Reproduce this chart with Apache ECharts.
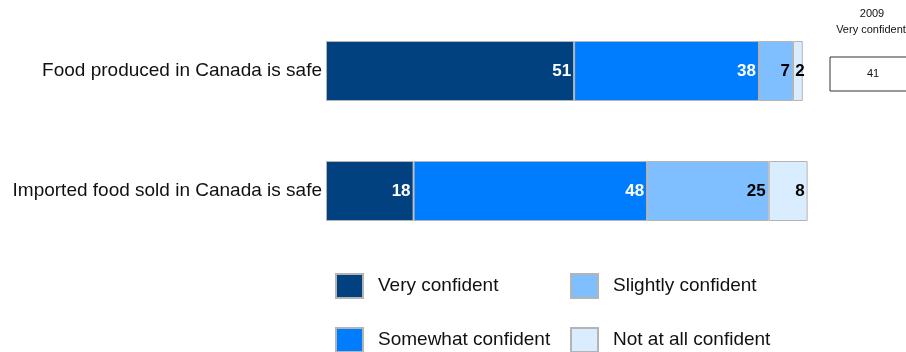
<!DOCTYPE html>
<html>
<head>
<meta charset="utf-8">
<script src="https://cdn.jsdelivr.net/npm/echarts@6/dist/echarts.min.js"></script>
<style>
  html, body { margin: 0; padding: 0; background: #fff; }
  #chart { width: 906px; height: 352px; }
</style>
</head>
<body>
<div id="chart"></div>
<script>
// Confidence in food safety, percent of respondents
const statements = ['Food produced in Canada is safe', 'Imported food sold in Canada is safe'];
const veryConfident = [51, 18];
const somewhatConfident = [38, 48];
const slightlyConfident = [7, 25];
const notAtAllConfident = [2, 8];
const seriesNames = ['Very confident', 'Somewhat confident', 'Slightly confident', 'Not at all confident'];
const seriesColors = ['#01417f', '#007dff', '#80bfff', '#d9edff'];
const labelColors = ['#ffffff', '#ffffff', '#000000', '#000000'];
// 2009 comparison value for "Very confident" (first statement only)
const prevYear = '2009';
const prevVeryConfident = [41];

const font = 'Liberation Sans, Arial, sans-serif';
const values = [veryConfident, somewhatConfident, slightlyConfident, notAtAllConfident];

// legend slots: two columns, two rows
const legendSlots = [[335, 273], [335, 327], [570, 273], [570, 327]];

// segments too narrow for their label let the label spill past the bar end
const toItems = arr => arr.map(v => v < 3 ? { value: v, label: { offset: [5, 0] } } : v);

const chart = echarts.init(document.getElementById('chart'));
chart.setOption({
  animation: false,
  grid: { left: 326, top: 11, width: 486.5, height: 240, containLabel: false },
  xAxis: { type: 'value', min: 0, max: 100, show: false },
  yAxis: {
    type: 'category', data: statements, inverse: true,
    axisLine: { show: false }, axisTick: { show: false },
    axisLabel: { fontSize: 19, color: '#111', fontFamily: font, margin: 4 }
  },
  legend: seriesNames.map((name, i) => ({
    left: legendSlots[i][0], top: legendSlots[i][1], padding: 0,
    itemWidth: 27, itemHeight: 24, icon: 'rect', data: [name],
    textStyle: { fontSize: 19, color: '#111', fontFamily: font, padding: [0, 0, 0, 10] }
  })),
  series: seriesNames.map((name, i) => ({
    name, type: 'bar', stack: 'total', barWidth: 60,
    data: toItems(values[i]),
    itemStyle: { color: seriesColors[i], borderColor: '#b4b4b4', borderWidth: 1 },
    label: {
      show: true, position: 'insideRight', distance: 3,
      color: labelColors[i], fontSize: 17, fontWeight: 'bold', fontFamily: font
    }
  })),
  graphic: [
    { type: 'text', x: 872, y: 14, style: { text: prevYear, fontSize: 11, fill: '#111', fontFamily: font, align: 'center', verticalAlign: 'middle' } },
    { type: 'text', x: 871, y: 30, style: { text: seriesNames[0], fontSize: 11, fill: '#111', fontFamily: font, align: 'center', verticalAlign: 'middle' } },
    { type: 'rect', shape: { x: 830, y: 57, width: 90, height: 34 }, style: { fill: '#fff', stroke: '#333', lineWidth: 1 } },
    { type: 'text', x: 873, y: 74, style: { text: String(prevVeryConfident[0]), fontSize: 11, fill: '#111', fontFamily: font, align: 'center', verticalAlign: 'middle' } }
  ]
});
</script>
</body>
</html>
